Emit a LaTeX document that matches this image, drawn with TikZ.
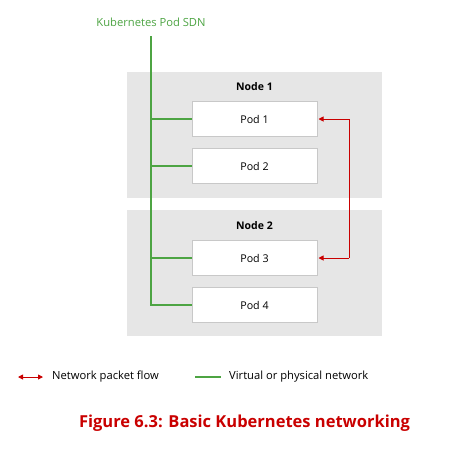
\documentclass[tikz,border=0pt]{standalone}
\usepackage{fontspec}
\setmainfont{Open Sans}
\usetikzlibrary{arrows.meta}
\definecolor{netgreen}{HTML}{4DA443}
\definecolor{flowred}{HTML}{C90000}
\definecolor{nodegray}{HTML}{E6E6E6}
\definecolor{podborder}{HTML}{C8C8C8}
\tikzset{
  hostbox/.style={fill=nodegray, draw=none, minimum width=255pt, minimum height=126pt, inner sep=0pt},
  podbox/.style={fill=white, draw=podborder, line width=1pt, minimum width=125pt, minimum height=35pt, inner sep=0pt, font=\fontsize{10.7}{12}\selectfont},
  hosttitle/.style={font=\fontsize{10.5}{12}\selectfont\bfseries},
  greenline/.style={draw=netgreen, line width=2pt},
  redline/.style={draw=flowred, line width=0.9pt},
  redtip/.style={-{Triangle[length=5pt,width=5pt]}},
  legendtext/.style={font=\fontsize{11.2}{13}\selectfont, anchor=west, inner sep=0pt},
}
\begin{document}
\begin{tikzpicture}[x=1pt,y=-1pt]
\useasboundingbox (0,0) rectangle (458,451);
% hosts
\node[hostbox, anchor=north west] (n1) at (127,72) {};
\node[hostbox, anchor=north west] (n2) at (127,210) {};
\node[hosttitle] (n1t) at (254.5,87) {Node 1};
\node[hosttitle] (n2t) at (254.5,226) {Node 2};
% pods
\node[podbox] (p1) at (254.5,119) {Pod 1};
\node[podbox] (p2) at (254.5,166) {Pod 2};
\node[podbox] (p3) at (254.5,258) {Pod 3};
\node[podbox] (p4) at (254.5,305) {Pod 4};
% SDN
\node[text=netgreen, font=\fontsize{11.2}{13}\selectfont] (sdn) at (151,22) {Kubernetes Pod SDN};
\coordinate (top) at (151,36);
\draw[greenline] (top) |- (p4.west);
\draw[greenline] (p1.west) -- (p1.west -| top);
\draw[greenline] (p2.west) -- (p2.west -| top);
\draw[greenline] (p3.west) -- (p3.west -| top);
% flow
\coordinate (r1) at (349,119);
\coordinate (r3) at (349,258);
\draw[redline, redtip] (r1) -- ([xshift=1pt]p1.east);
\draw[redline, redtip] (r3) -- ([xshift=1pt]p3.east);
\draw[redline] (r1) -- (r3);
% legend
\coordinate (la) at (18,377);
\coordinate (lb) at (43,377);
\draw[redline, {Triangle[length=5pt,width=5pt]}-{Triangle[length=5pt,width=5pt]}] (la) -- (lb);
\node[legendtext] (lt1) at (52,377) {Network packet flow};
\coordinate (ga) at (195,377);
\coordinate (gb) at (221,377);
\draw[greenline] (ga) -- (gb);
\node[legendtext] (lt2) at (229,377) {Virtual or physical network};
% caption
\node[text=flowred, font=\fontsize{16.5}{19}\selectfont\bfseries] (cap) at (244.5,423) {Figure 6.3: Basic Kubernetes networking};
\end{tikzpicture}
\end{document}
